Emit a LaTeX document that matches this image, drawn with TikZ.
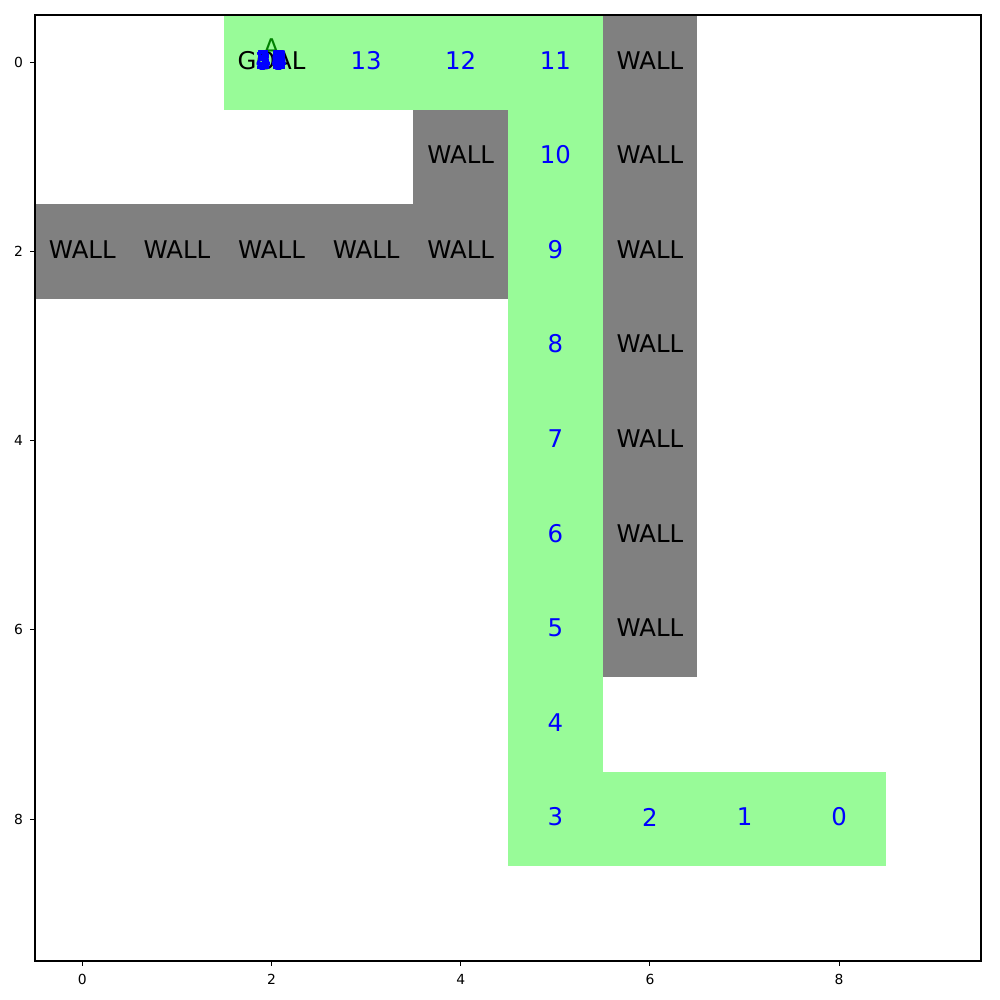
\documentclass[tikz,border=0pt]{standalone}
\usepackage{fontspec}
\setmainfont{DejaVu Sans}
\definecolor{pgreen}{HTML}{98FB98}
\definecolor{wallgray}{HTML}{808080}
\definecolor{mgreen}{HTML}{008000}
\begin{document}
\begin{tikzpicture}[
  cellg/.style={fill=pgreen,draw=none},
  cellw/.style={fill=wallgray,draw=none},
  lbl/.style={font=\fontsize{6.94pt}{7pt}\selectfont,inner sep=0pt,anchor=center,yshift=0.6pt},
  wlbl/.style={lbl,text=black},
  nlbl/.style={lbl,text=blue},
  ticklbl/.style={font=\fontsize{3.95pt}{4pt}\selectfont,inner sep=0pt},
]
\useasboundingbox (0,0) rectangle (10,10);
\fill[white] (0,0) rectangle (10,10);
\begin{scope}[shift={(0.823,9.377)},xscale=0.946,yscale=-0.946]
  % green cells
  \foreach \c in {2,3,4,5} \fill[cellg] (\c-0.5,-0.5) rectangle (\c+0.5,0.5);
  \foreach \r in {1,...,8} \fill[cellg] (4.5,\r-0.5) rectangle (5.5,\r+0.5);
  \foreach \c in {6,7,8} \fill[cellg] (\c-0.5,7.5) rectangle (\c+0.5,8.5);
  % walls
  \foreach \r in {0,...,6} \fill[cellw] (5.5,\r-0.5) rectangle (6.5,\r+0.5);
  \fill[cellw] (3.5,0.5) rectangle (4.5,1.5);
  \foreach \c in {0,...,4} \fill[cellw] (\c-0.5,1.5) rectangle (\c+0.5,2.5);
  % wall labels
  \foreach \r in {0,...,6} \node[wlbl] (w6\r) at (6,\r) {WALL};
  \node[wlbl] (w41) at (4,1) {WALL};
  \foreach \c in {0,...,4} \node[wlbl] (w\c2) at (\c,2) {WALL};
  % goal cell
  \node[wlbl] (goal) at (2,0) {GOAL};
  \node[lbl,text=mgreen] (agent) at (2,-0.13) {A};
  \foreach \n in {14,...,58} \node[nlbl] (s\n) at (2,0) {\n};
  % path numbers
  \node[nlbl] (s13) at (3,0) {13};
  \node[nlbl] (s12) at (4,0) {12};
  \node[nlbl] (s11) at (5,0) {11};
  \node[nlbl] (s10) at (5,1) {10};
  \node[nlbl] (s9) at (5,2) {9};
  \node[nlbl] (s8) at (5,3) {8};
  \node[nlbl] (s7) at (5,4) {7};
  \node[nlbl] (s6) at (5,5) {6};
  \node[nlbl] (s5) at (5,6) {5};
  \node[nlbl] (s4) at (5,7) {4};
  \node[nlbl] (s3) at (5,8) {3};
  \node[nlbl] (s2) at (6,8) {2};
  \node[nlbl] (s1) at (7,8) {1};
  \node[nlbl] (s0) at (8,8) {0};
  % axes frame
  \draw[line width=0.31pt,line cap=rect] (-0.5,-0.5) rectangle (9.5,9.5);
  \foreach \t in {0,2,4,6,8} {
    \draw[line width=0.31pt] (\t,9.5) -- ++(0,0.052);
    \node[ticklbl,anchor=north] (xt\t) at (\t,9.63) {\t};
    \draw[line width=0.31pt] (-0.5,\t) -- ++(-0.052,0);
    \node[ticklbl,anchor=east] (yt\t) at (-0.62,\t) {\t};
  }
\end{scope}
\end{tikzpicture}
\end{document}
